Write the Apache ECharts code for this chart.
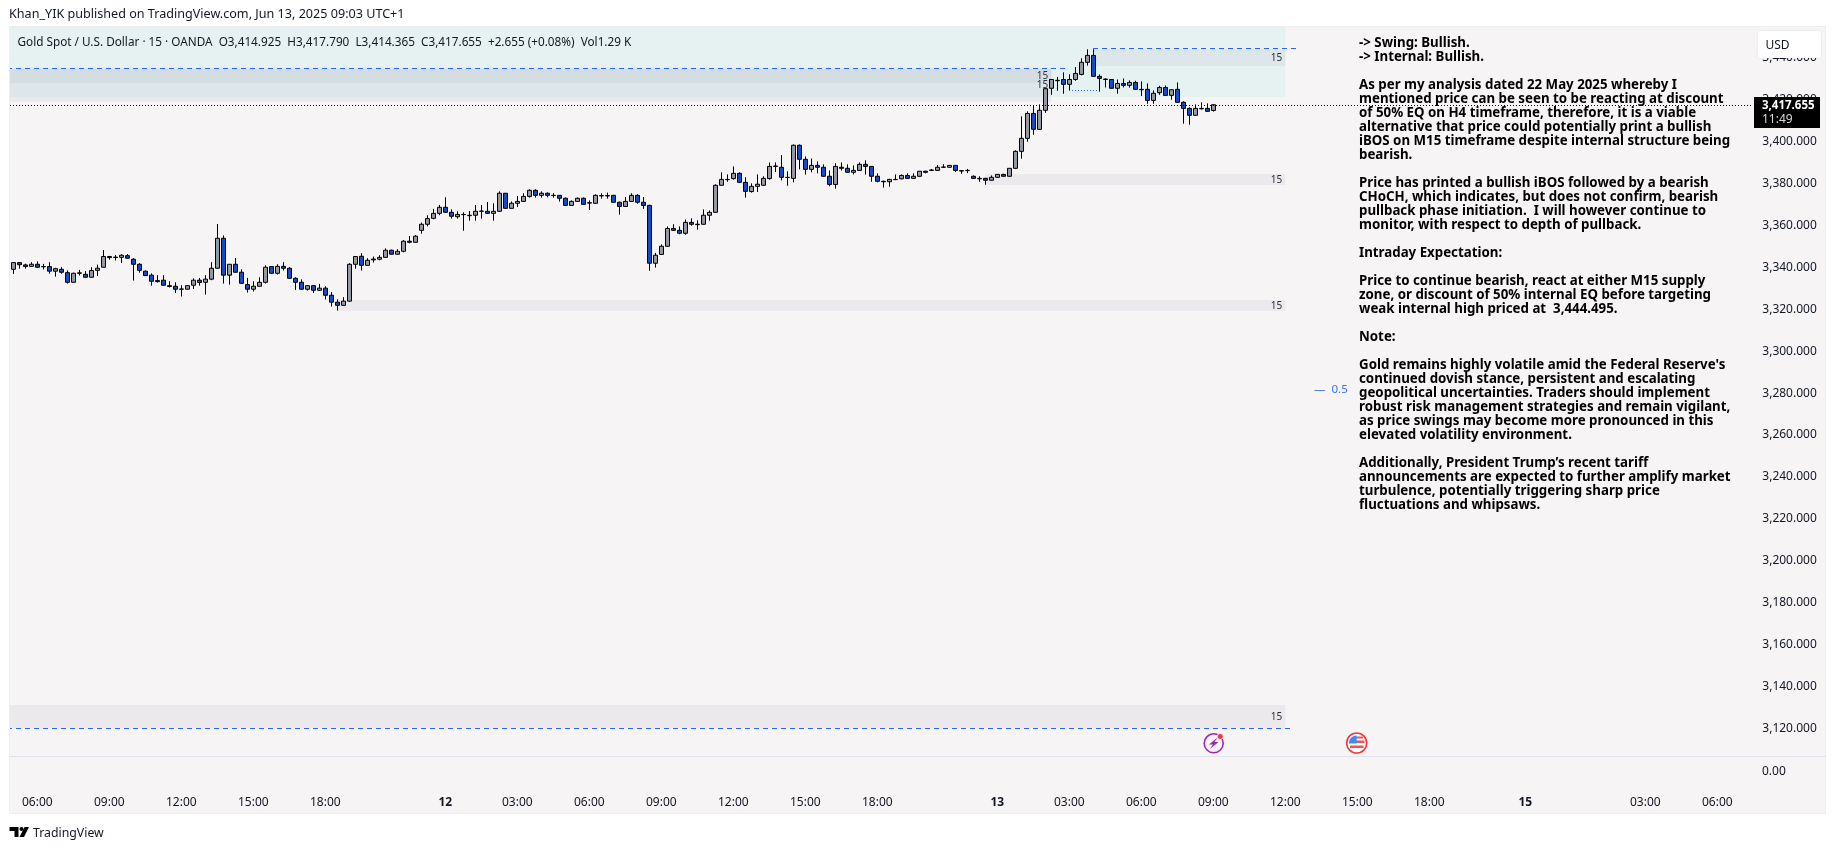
<!DOCTYPE html>
<html>
<head>
<meta charset="UTF-8">
<title>Gold Spot / U.S. Dollar</title>
<script src="https://cdn.jsdelivr.net/npm/echarts@6/dist/echarts.min.js"></script>
<style>
html,body{margin:0;padding:0;background:#fff;}
#main{width:1835px;height:850px;}
</style>
</head>
<body>
<div id="main"></div>
<script>
// 15 minute bars, 11 Jun 05:00 to 13 Jun 09:00
var opens = [
3339.1,3342.3,3341.2,3340.5,3341.5,3340.3,3340.4,3338.2,3339.1,3337.5,
3332.9,3337.2,3336.7,3335.3,3338.6,3340.1,3345.2,3344.7,3344.8,3345.6,
3343.9,3341.5,3338.2,3336.3,3333.7,3333.9,3331.3,3331,3329.6,3329.6,
3331.5,3333.9,3332.9,3334.4,3339.6,3353.9,3336.3,3341.5,3337.7,3331.8,
3329.6,3331,3332.9,3340.4,3337.2,3340.5,3339.6,3334.8,3332.9,3329.6,
3331.3,3329.1,3330.1,3326.7,3323.4,3321.9,3323.9,3341.5,3345.3,3341,
3344,3343.9,3344.8,3348.2,3346.3,3347.7,3352.5,3352,3357.7,3360.6,
3363.4,3365.8,3368.7,3366.3,3364.2,3365.2,3364.7,3364.9,3366.8,3366.8,
3365.8,3366.8,3375.4,3368.2,3370.6,3371.5,3373.9,3376.8,3374.4,3375.4,
3374.3,3374.4,3373,3369.6,3371.5,3373,3370.7,3370.6,3374.1,3374.1,
3374.4,3371.1,3369.1,3371.5,3374.4,3371.1,3369.6,3342,3346.2,3350.1,
3358.6,3357.7,3356.3,3361.5,3360.4,3360.6,3364.9,3366.3,3379.2,3381.9,
3382.4,3384.9,3380.6,3376.2,3378.7,3379.2,3382.4,3388.2,3387.8,3382.9,
3382.5,3398.3,3391.6,3386.8,3388.7,3387.8,3383.5,3379.6,3387.8,3387.3,
3385.4,3386.3,3389.2,3388.2,3383.5,3380.9,3380.9,3381.9,3382.3,3383.9,
3382.5,3383.5,3385.9,3386.3,3386.3,3387.8,3387.8,3388.7,3386,3386.2,
3383.5,3382.3,3382.5,3381.6,3383,3384.4,3383.5,3387.3,3395.4,3401.6,
3413.5,3405.9,3415,3425.5,3429.1,3429.7,3427.4,3429.7,3432.1,3437.9,
3441.2,3431.2,3429.7,3429.7,3425.5,3427.8,3426.9,3428.3,3424.8,3425,
3419.7,3423.4,3425.9,3422.1,3425,3418.8,3415.9,3412.6,3415.7,3415.9,3414.925];
var closes = [
3342.3,3341.3,3340.4,3341.5,3340.1,3340.4,3338.2,3339.4,3337.7,3332.9,
3337.2,3337.4,3335.3,3338.5,3339.6,3345.2,3344.7,3344.9,3345.8,3344.4,
3341.5,3338.6,3336.1,3333.4,3333.2,3331.5,3330.9,3329.6,3329.7,3331.3,
3333.9,3332.8,3334.4,3339.6,3353.9,3336.3,3341.5,3337.7,3332.4,3329.6,
3331,3332.9,3340.1,3337.2,3340.5,3339.6,3334.8,3332.9,3329.6,3331.3,
3329.1,3330.1,3326.7,3323.4,3321.9,3323.9,3341.5,3345.2,3341,3343.4,
3343.6,3344.8,3348.2,3346.3,3347.7,3352.5,3352,3354.9,3360.6,3363.3,
3365.8,3368.7,3366.3,3364.4,3365.3,3365.3,3364.9,3366.8,3366.9,3365.8,
3366.8,3375.4,3368.2,3370.6,3371.5,3373.9,3376.8,3374.4,3375.4,3374.4,
3374.4,3373,3369.6,3371.5,3373,3370.1,3370.9,3374.4,3374.3,3374.3,
3371.1,3369.1,3371.5,3374.4,3371.1,3369.6,3342,3345.8,3350.1,3358.6,
3357.7,3356.3,3361.5,3360.6,3360.6,3364.9,3366.3,3379.2,3382,3382,
3384.9,3380.6,3376.3,3378.7,3379.7,3382.5,3388.2,3388.4,3383,3383,
3398.3,3391.6,3386.8,3388.7,3387.8,3383.5,3379.6,3388.2,3387.3,3385.4,
3386.3,3389.2,3388.2,3383.5,3381.1,3381.1,3382,3382,3383.9,3382.5,
3383.5,3385.9,3385.4,3386.5,3387.8,3387.9,3388.7,3386.3,3386.2,3386.3,
3382.5,3382.5,3381.6,3383,3384.4,3383.5,3387.3,3395.4,3401.6,3413.5,
3405.9,3415,3425.3,3429.7,3429.3,3427.4,3429.7,3432.6,3437.9,3441.2,
3431.2,3430.2,3429.9,3425.5,3427.8,3426.9,3428.3,3425,3425,3419.7,
3423.1,3425.9,3422.1,3424.8,3418.8,3415.9,3412.6,3415.9,3415.9,3414.5,3417.655];
var lows = [
3336.9,3339.4,3339.4,3340.4,3339.8,3339,3337,3335.6,3337,3332.3,
3332.8,3336.1,3335.1,3335.1,3335.9,3339.9,3343.7,3343.3,3342.1,3344.2,
3333.7,3337.5,3335.9,3331.3,3332.8,3331.3,3330.4,3327.8,3326.1,3329.4,
3329.7,3331.3,3327,3333.9,3339.4,3332.3,3331.8,3337.5,3332.3,3328,
3328.5,3330.9,3332.3,3337,3336.6,3338.5,3334.7,3329.3,3329.4,3328.9,
3327.8,3328.9,3324.7,3321.3,3319.4,3321.8,3323.7,3339.4,3338.5,3340.9,
3342.3,3343.4,3344.7,3346.1,3346.1,3347.2,3351.5,3351.8,3356.1,3359.6,
3363,3364.9,3366.1,3363.3,3363.3,3357.5,3362.3,3362.3,3363.3,3365.6,
3362.3,3366.6,3368.1,3368.1,3368.8,3371.4,3373.3,3373.3,3373.3,3373.4,
3373.3,3371.4,3369.5,3369.5,3371.2,3370,3367.4,3370.4,3372.8,3372.8,
3370.9,3365.2,3369,3371.4,3370.4,3368,3338.4,3339.9,3346.1,3349.9,
3357.5,3355.8,3355.6,3359.9,3358,3360.4,3362.3,3366.1,3379,3380.9,
3381.9,3380.4,3373.3,3375.7,3376,3379,3381.9,3385.5,3381.5,3379,
3380.6,3386.8,3384.3,3385.4,3384.9,3383.3,3378.7,3377.6,3386.2,3385.2,
3384.4,3386.2,3384.3,3380.9,3380.6,3378.1,3378.5,3381.7,3382,3382.2,
3382.3,3383.3,3384.9,3386,3386,3387.6,3387.6,3385.5,3384.7,3385,
3382.2,3380.9,3379.5,3381.4,3382.8,3383.3,3383.3,3387,3391.9,3400,
3403.3,3405.7,3413.8,3422.4,3424.3,3422.9,3424.3,3429.1,3431.7,3436.3,
3431,3423.9,3425.9,3425.3,3422.9,3425.9,3425.8,3424.8,3421.8,3418.1,
3418.1,3422.4,3422,3420,3418.6,3408.6,3408.1,3412.4,3415.4,3414.3,3414.365];
var highs = [
3342.3,3342.3,3341.8,3342.5,3342.9,3341.7,3342.5,3339.8,3340.1,3338.6,
3337.5,3338.8,3338.2,3340.1,3341.3,3348.3,3345.5,3345.9,3346.3,3346.4,
3344.4,3342,3338.5,3337.2,3336.3,3336.3,3333.4,3332.9,3331.5,3331.5,
3334.8,3335,3336.3,3342.5,3360.7,3355.3,3341.5,3344.5,3339.1,3335,
3333.4,3335.3,3341,3340.5,3341.5,3342.5,3340.1,3335.3,3334.3,3331.5,
3331.5,3332.1,3331,3328.2,3324.8,3325.8,3342,3345.3,3346.8,3344.4,
3345.2,3345.8,3349.1,3348.5,3348.7,3353,3355,3355.5,3361.4,3364.9,
3367.9,3369.8,3373.5,3367.7,3366.8,3366.3,3366.9,3369.8,3369.8,3371.2,
3370.6,3376.3,3375.4,3371.5,3374.1,3375.4,3377.3,3377.3,3376.3,3375.8,
3375.5,3374.4,3373.4,3372,3373.4,3373.4,3372,3374.9,3375.4,3375.7,
3374.6,3371.4,3373.6,3375.4,3374.9,3373.6,3369.9,3346.9,3351,3359.6,
3360.6,3359.6,3362.9,3363.4,3362.5,3367.7,3367.2,3379.7,3385.4,3384.4,
3388.2,3385.4,3383,3380.1,3384.4,3383.5,3390.1,3390.1,3393.6,3385.9,
3398.7,3398.7,3393,3392,3390.6,3389.2,3386.3,3389.7,3390.1,3389.2,
3388.7,3390.1,3391.1,3388.4,3384.9,3381.4,3382.3,3384.4,3384.4,3384.9,
3384.9,3386,3386.2,3387,3388.9,3389.3,3388.9,3388.9,3386.5,3387,
3383.9,3383.5,3382.8,3383.9,3384.6,3384.7,3387.4,3395.9,3412.1,3414.5,
3417.3,3417.8,3425.5,3429.9,3430.9,3433.1,3432.2,3435.6,3439.8,3444.1,
3444.1,3432.1,3430.2,3429.9,3429.7,3430.2,3429.3,3429.1,3428.8,3427.8,
3424.5,3426.7,3426.9,3425,3428.3,3419.3,3416.4,3417.8,3418.8,3418.3,3417.79];

var barCount = 290;
var tickBars = [4,16,28,40,52,72,84,96,108,120,132,144,164,176,188,200,212,224,236,252,272,284];
var tickTexts = ['06:00','09:00','12:00','15:00','18:00','12','03:00','06:00','09:00','12:00','15:00','18:00','13','03:00','06:00','09:00','12:00','15:00','18:00','15','03:00','06:00'];
var priceTicks = [3120,3140,3160,3180,3200,3220,3240,3260,3280,3300,3320,3340,3360,3380,3400,3420,3440];

// drawn zones: bar index from/to, price top/bottom (first one is the teal range)
var zoneStarts  = [-1, -1, -1, 180, 162, 54, -1];
var zoneEnds    = [212, 173, 173, 212, 212, 212, 212];
var zoneTops    = [3460, 3435, 3435, 3444.2, 3384.6, 3324.4, 3131.1];
var zoneBottoms = [3421.3, 3428, 3419.1, 3436.1, 3379.3, 3319.3, 3120];
var zoneTexts   = ['', '15', '15', '15', '15', '15', '15'];

// drawn lines: bar index from/to, price
var lineStarts = [-1, 180, -1, 176, -1];
var lineEnds   = [176, 214, 213, 181, 290];
var linePrices = [3435, 3444.495, 3120, 3424.5, 3417.655];

var commentLines = [
'-> Swing: Bullish.',
'-> Internal: Bullish.',
'',
'As per my analysis dated 22 May 2025 whereby I',
'mentioned price can be seen to be reacting at discount',
'of 50% EQ on H4 timeframe, therefore, it is a viable',
'alternative that price could potentially print a bullish',
'iBOS on M15 timeframe despite internal structure being',
'bearish.',
'',
'Price has printed a bullish iBOS followed by a bearish',
'CHoCH, which indicates, but does not confirm, bearish',
'pullback phase initiation.  I will however continue to',
'monitor, with respect to depth of pullback.',
'',
'Intraday Expectation:',
'',
'Price to continue bearish, react at either M15 supply',
'zone, or discount of 50% internal EQ before targeting',
'weak internal high priced at  3,444.495.',
'',
'Note:',
'',
"Gold remains highly volatile amid the Federal Reserve's",
'continued dovish stance, persistent and escalating',
'geopolitical uncertainties. Traders should implement',
'robust risk management strategies and remain vigilant,',
'as price swings may become more pronounced in this',
'elevated volatility environment.',
'',
'Additionally, President Trump’s recent tariff',
'announcements are expected to further amplify market',
'turbulence, potentially triggering sharp price',
'fluctuations and whipsaws.'
];

var FONT = '"Noto Sans", sans-serif';
var TEXT = '#131722';

var categories = [];
for (var i = 0; i < barCount; i++) categories.push(String(i));
var tickMap = {};
tickBars.forEach(function(b, i){ tickMap[b] = tickTexts[i]; });

var candles = opens.map(function(o, i){ return [o, closes[i], lows[i], highs[i]]; });

function renderZone(params, api){
	var i = params.dataIndex;
	var a = api.coord([zoneStarts[i], zoneTops[i]]);
	var b = api.coord([zoneEnds[i], zoneBottoms[i]]);
	var fill = i == 0 ? '#e6f1f2' : 'rgba(120,120,135,0.08)';
	var kids = [{type:'rect', shape:{x:a[0], y:a[1], width:b[0]-a[0], height:b[1]-a[1]}, style:{fill:fill}}];
	if(zoneTexts[i]){
		kids.push({type:'text', style:{x:b[0]-3, y:(a[1]+b[1])/2+0.5, text:zoneTexts[i], fill:'#2a2e39', font:'10px '+FONT, align:'right', verticalAlign:'middle'}});
	}
	return {type:'group', children:kids};
}

function renderLine(params, api){
	var i = params.dataIndex;
	var a = api.coord([lineStarts[i], linePrices[i]]);
	var b = api.coord([lineEnds[i], linePrices[i]]);
	var stroke = '#2962ff', dash = [5,4];
	if(i == 3) dash = [1,2];
	if(i == 4){ stroke = '#000'; dash = [1,2]; }
	// snap to whole pixels so the dashes stay crisp
	var y = Math.round(a[1]) + 0.5;
	return {type:'line', shape:{x1:Math.round(a[0]), y1:y, x2:Math.round(b[0]), y2:y}, style:{stroke:stroke, lineWidth:1, lineDash:dash}};
}

var chart = echarts.init(document.getElementById('main'));
chart.setOption({
	animation: false,
	backgroundColor: '#fff',
	textStyle: {fontFamily: FONT},
	grid: {left: 10.3, top: 27, width: 1740, height: 729},
	xAxis: {
		type: 'category',
		data: categories,
		boundaryGap: true,
		axisLine: {show:false},
		axisTick: {show:false},
		splitLine: {show:false},
		axisLabel: {
			margin: 41,
			fontSize: 12,
			color: TEXT,
			fontFamily: FONT,
			interval: function(index){ return tickMap[index] !== undefined; },
			formatter: function(v){
				var t = tickMap[v];
				if(t === undefined) return '';
				return t.indexOf(':') < 0 ? '{b|'+t+'}' : t;
			},
			rich: {b:{fontWeight:'bold', fontSize:12, color:TEXT, fontFamily:FONT}}
		}
	},
	yAxis: {
		type: 'value',
		position: 'right',
		scale: true,
		min: 3106.8,
		max: 3454.75,
		axisLine: {show:false},
		axisTick: {show:false},
		splitLine: {show:false},
		axisLabel: {
			margin: 12,
			fontSize: 12,
			color: TEXT,
			fontFamily: FONT,
			customValues: priceTicks,
			formatter: function(v){ return v.toLocaleString('en-US',{minimumFractionDigits:3}); }
		}
	},
	series: [
		{
			type: 'custom',
			z: 1,
			clip: true,
			silent: true,
			renderItem: renderZone,
			data: zoneTops.map(function(t, i){ return [i, t]; })
		},
		{
			type: 'candlestick',
			z: 3,
			barWidth: 4,
			itemStyle: {
				color: '#9598a1',
				color0: '#1848cc',
				borderColor: '#000',
				borderColor0: '#000',
				borderColorDoji: '#000',
				borderWidth: 1
			},
			data: candles
		},
		{
			type: 'custom',
			z: 4,
			clip: true,
			silent: true,
			renderItem: renderLine,
			data: linePrices.map(function(p, i){ return [i, p]; })
		}
	],
	graphic: [
		{type:'rect', z:-10, shape:{x:9.5, y:26.5, width:1816, height:787}, style:{fill:'#f6f4f5', stroke:'#eeeef0', lineWidth:1}},
		{type:'line', z:-9, shape:{x1:10, y1:756.5, x2:1826, y2:756.5}, style:{stroke:'#e0e3eb', lineWidth:1}},
		{type:'text', z:100, style:{x:9, y:14, text:'Khan_YIK published on TradingView.com, Jun 13, 2025 09:03 UTC+1', font:'12.6px '+FONT, fill:TEXT, verticalAlign:'middle'}},
		{type:'text', z:100, style:{x:17.5, y:42.5, text:'Gold Spot / U.S. Dollar · 15 · OANDA  O3,414.925  H3,417.790  L3,414.365  C3,417.655  +2.655 (+0.08%)  Vol1.29 K', font:'11.75px '+FONT, fill:TEXT, verticalAlign:'middle'}},
		{type:'text', z:100, style:{x:1359, y:36, text:commentLines.join('\n'), font:'bold 13.3px '+FONT, lineHeight:14, fill:'#000', verticalAlign:'top'}},
		{type:'text', z:100, style:{x:1314, y:390, text:'—  0.5', font:'11.5px '+FONT, fill:'#3b74f5', verticalAlign:'middle'}},
		// USD box and last price tag sit on top of the axis labels
		{type:'rect', z:100, shape:{x:1758, y:31, width:63, height:27, r:3}, style:{fill:'#fff', shadowBlur:3, shadowColor:'rgba(0,0,0,0.08)'}},
		{type:'text', z:101, style:{x:1765.5, y:45.5, text:'USD', font:'12px '+FONT, fill:TEXT, verticalAlign:'middle'}},
		{type:'rect', z:100, shape:{x:1754, y:97, width:66, height:31}, style:{fill:'#000'}},
		{type:'text', z:101, style:{x:1762, y:106, text:'3,417.655', font:'bold 11.5px '+FONT, fill:'#fff', verticalAlign:'middle'}},
		{type:'text', z:101, style:{x:1762, y:120, text:'11:49', font:'12px '+FONT, fill:'#d8d8d8', verticalAlign:'middle'}},
		{type:'text', z:100, style:{x:1762, y:772, text:'0.00', font:'12px '+FONT, fill:TEXT, verticalAlign:'middle'}},
		// TradingView logo
		{type:'polygon', z:100, shape:{points:[[9.5,827],[18.5,827],[18.5,837],[14.5,837],[14.5,831],[9.5,831]]}, style:{fill:'#000'}},
		{type:'circle', z:100, shape:{cx:21.5, cy:829, r:2}, style:{fill:'#000'}},
		{type:'polygon', z:100, shape:{points:[[24.5,827],[29,827],[24,837],[19.5,837]]}, style:{fill:'#000'}},
		{type:'text', z:100, style:{x:33, y:833, text:'TradingView', font:'12.3px '+FONT, fill:TEXT, verticalAlign:'middle'}},
		// event markers
		{type:'circle', z:100, shape:{cx:1213.7, cy:743.3, r:9.5}, style:{fill:'none', stroke:'#9c27b0', lineWidth:1.6}},
		{type:'polygon', z:100, shape:{points:[[1217.5,737.5],[1209,744.5],[1213,744.5],[1210,749],[1218.5,742],[1214.5,742]]}, style:{fill:'#9c27b0'}},
		{type:'circle', z:101, shape:{cx:1220.2, cy:736.5, r:3}, style:{fill:'#f23645', stroke:'#f6f4f5', lineWidth:0.8}},
		{type:'circle', z:100, shape:{cx:1356.7, cy:743, r:10}, style:{fill:'#fff', stroke:'#f23645', lineWidth:1.6}},
		{type:'rect', z:100, shape:{x:1356, y:736.5, width:7, height:2}, style:{fill:'#ef5350'}},
		{type:'rect', z:100, shape:{x:1356, y:740.5, width:8.5, height:2.5}, style:{fill:'#ef5350'}},
		{type:'rect', z:100, shape:{x:1350, y:745.5, width:13.5, height:2.5}, style:{fill:'#ef5350'}},
		{type:'sector', z:101, shape:{cx:1356.7, cy:743.5, r:8, r0:0, startAngle:Math.PI, endAngle:Math.PI*1.5}, style:{fill:'#3d8bf2'}}
	]
});
</script>
</body>
</html>
